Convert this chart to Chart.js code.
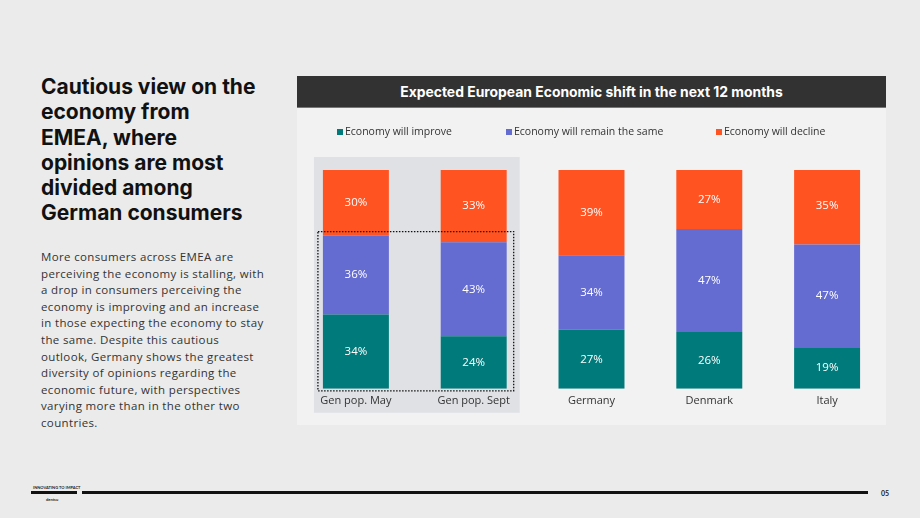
<!DOCTYPE html>
<html>
<head>
<meta charset="utf-8">
<script src="https://cdn.jsdelivr.net/npm/chart.js@4"></script>
<style>
  body { margin: 0; width: 920px; height: 518px; background: #ebebeb; font-family: Lato, "Noto Sans", sans-serif; position: relative; overflow: hidden; }
  #heading { position: absolute; left: 41px; top: 74px; font-family: Inter, Lato, sans-serif; font-weight: 700; font-size: 21px; line-height: 25.3px; color: #111; }
  #body { position: absolute; left: 41px; top: 249px; font-family: "Open Sans", sans-serif; font-size: 11.5px; line-height: 16.6px; letter-spacing: 0.35px; color: #333; }
  #panel { position: absolute; left: 297px; top: 76px; width: 589px; height: 349px; background: #f2f2f2; }
  #titlebar { position: absolute; left: 297px; top: 76px; width: 589px; height: 32px; background: #323232; color: #fff; font-family: Inter, Lato, sans-serif; font-weight: 700; font-size: 13.9px; line-height: 32px; text-align: center; border-bottom: 1px solid #777; box-sizing: border-box; }
  #wrap { position: absolute; left: 297px; top: 108px; width: 589px; height: 317px; }
  .line { position: absolute; background: #111; }
  .tiny { position: absolute; font-size: 4px; font-weight: 700; color: #222; }
</style>
</head>
<body>
<div id="heading">Cautious view on the<br>economy from<br>EMEA, where<br>opinions are most<br>divided among<br>German consumers</div>
<div id="body">More consumers across EMEA are<br>perceiving the economy is stalling, with<br>a drop in consumers perceiving the<br>economy is improving and an increase<br>in those expecting the economy to stay<br>the same. Despite this cautious<br>outlook, Germany shows the greatest<br>diversity of opinions regarding the<br>economic future, with perspectives<br>varying more than in the other two<br>countries.</div>
<div id="panel"></div>
<div id="titlebar">Expected European Economic shift in the next 12 months</div>
<div id="wrap"><canvas id="chart"></canvas></div>

<div class="tiny" style="left:33px;top:485px;">INNOVATING TO IMPACT</div>
<div class="line" style="left:31px;top:491px;width:46px;height:3px;"></div>
<div class="tiny" style="left:46px;top:497px;">dentsu</div>
<div class="line" style="left:82px;top:491px;width:786px;height:3px;"></div>
<div style="position:absolute;left:881px;top:489px;font-size:7px;font-weight:700;color:#222;">05</div>

<script>
// chart data
const categories = ['Gen pop. May', 'Gen pop. Sept', 'Germany', 'Denmark', 'Italy'];
const improve = [34, 24, 27, 26, 19];
const remain = [36, 43, 34, 47, 47];
const decline = [30, 33, 39, 27, 35];
const seriesNames = ['Economy will improve', 'Economy will remain the same', 'Economy will decline'];
const colors = ['#007a7a', '#646bd1', '#ff5322'];

// grey box behind the two gen pop bars + dotted outline
const highlight = {
  id: 'highlight',
  beforeDraw(chart) {
    const ctx = chart.ctx;
    const x = chart.scales.x;
    const half = chart.getDatasetMeta(0).data[0].width / 2;
    const x0 = x.getPixelForValue(0), x1 = x.getPixelForValue(1);
    ctx.save();
    ctx.fillStyle = '#dfe1e5';
    ctx.fillRect(x0 - half - 9, chart.chartArea.top - 13, (x1 - x0) + 2 * half + 22, chart.chartArea.bottom - chart.chartArea.top + 37);
    ctx.restore();
  },
  afterDatasetsDraw(chart) {
    const ctx = chart.ctx;
    const x = chart.scales.x, y = chart.scales.y;
    const half = chart.getDatasetMeta(0).data[0].width / 2;
    const x0 = x.getPixelForValue(0), x1 = x.getPixelForValue(1);
    const top = y.getPixelForValue(improve[0] + remain[0]) - 4;
    ctx.save();
    ctx.strokeStyle = '#111';
    ctx.lineWidth = 1.3;
    ctx.setLineDash([1.5, 1.5]);
    ctx.strokeRect(x0 - half - 5, top, (x1 - x0) + 2 * half + 12, chart.chartArea.bottom + 2 - top);
    ctx.restore();
  }
};

// white percentage labels in the middle of each segment
const segLabels = {
  id: 'segLabels',
  afterDatasetsDraw(chart) {
    const ctx = chart.ctx;
    ctx.save();
    ctx.fillStyle = '#fff';
    ctx.font = '500 11.5px "Open Sans", sans-serif';
    ctx.textAlign = 'center';
    ctx.textBaseline = 'middle';
    chart.data.datasets.forEach((ds, i) => {
      chart.getDatasetMeta(i).data.forEach((bar, j) => {
        const mid = (bar.y + bar.base) / 2;
        ctx.fillText(ds.data[j] + '%', bar.x, mid);
      });
    });
    ctx.restore();
  }
};

// legend spread across the panel
const spreadLegend = {
  id: 'spreadLegend',
  afterDraw(chart) {
    const ctx = chart.ctx;
    const xs = [40, 209, 419];
    ctx.save();
    ctx.font = '10.5px "Open Sans", sans-serif';
    ctx.textBaseline = 'middle';
    seriesNames.forEach((name, i) => {
      ctx.fillStyle = colors[i];
      ctx.fillRect(xs[i], 21, 6, 6);
      ctx.fillStyle = '#333';
      ctx.fillText(name, xs[i] + 8, 24);
    });
    ctx.restore();
  }
};

new Chart(document.getElementById('chart'), {
  type: 'bar',
  data: {
    labels: categories,
    datasets: [
      { label: seriesNames[0], data: improve, backgroundColor: colors[0] },
      { label: seriesNames[1], data: remain, backgroundColor: colors[1] },
      { label: seriesNames[2], data: decline, backgroundColor: colors[2] }
    ]
  },
  options: {
    responsive: true,
    maintainAspectRatio: false,
    animation: false,
    layout: { padding: { top: 62, bottom: 13, left: 0, right: 0 } },
    datasets: { bar: { categoryPercentage: 1, barPercentage: 0.56, borderWidth: 0 } },
    plugins: { legend: { display: false }, tooltip: { enabled: false } },
    scales: {
      x: {
        stacked: true,
        grid: { display: false, drawTicks: false },
        border: { display: false },
        ticks: { color: '#333', padding: 5, font: { size: 11, family: '"Open Sans", sans-serif' } }
      },
      y: { stacked: true, display: false, min: 0, max: 100 }
    }
  },
  plugins: [highlight, segLabels, spreadLegend]
});
</script>
</body>
</html>
